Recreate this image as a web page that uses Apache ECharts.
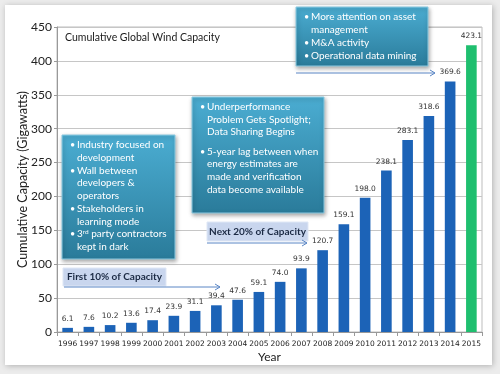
<!DOCTYPE html>
<html><head><meta charset="utf-8">
<script src="https://cdn.jsdelivr.net/npm/echarts@6/dist/echarts.min.js"></script>
<style>html,body{margin:0;padding:0;background:#ececec;}#c{width:500px;height:374px;}</style>
</head><body><div id="c"></div>
<script>
const years = ['1996','1997','1998','1999','2000','2001','2002','2003','2004','2005','2006','2007','2008','2009','2010','2011','2012','2013','2014','2015'];
const capacity = [6.1,7.6,10.2,13.6,17.4,23.9,31.1,39.4,47.6,59.1,74.0,93.9,120.7,159.1,198.0,238.1,283.1,318.6,369.6,423.1];
const yTicks = [0,50,100,150,200,250,300,350,400,450];
const chartTitle = 'Cumulative Global Wind Capacity';
const yName = 'Cumulative Capacity (Gigawatts)';
const xName = 'Year';
const box1 = [['•','Industry focused on'],['','development'],['•','Wall between'],['','developers &'],['','operators'],['•','Stakeholders in'],['','learning mode'],['•','{n|3}{s|rd}{n| party contractors}'],['','kept in dark']];
const box2 = [['•','Underperformance'],['','Problem Gets Spotlight;'],['','Data Sharing Begins'],['•','5-year lag between when'],['','energy estimates are'],['','made and verification'],['','data become available']];
const box3 = [['•','More attention on asset'],['','management'],['•','M&A activity'],['•','Operational data mining']];
const phase1 = 'First 10% of Capacity';
const phase2 = 'Next 20% of Capacity';

const BLUE = '#1c63b7', GREEN = '#1fbf6f';
const FONT = 'Lato, "Open Sans", sans-serif';
const chart = echarts.init(document.getElementById('c'));

function tealBox(x, y, w, h, lines, ys) {
  const els = [{
    type: 'rect', shape: {x: x, y: y, width: w, height: h}, z: 10,
    style: {
      fill: new echarts.graphic.LinearGradient(0,0,0,1,[{offset:0,color:'#4badd2'},{offset:1,color:'#2a7b9a'}]),
      stroke: '#8ccbe2', lineWidth: 1,
      shadowBlur: 4, shadowOffsetX: 1, shadowOffsetY: 2, shadowColor: 'rgba(0,0,0,0.35)'
    }
  }];
  lines.forEach((l, i) => {
    if (l[0]) els.push({type:'text', z: 11, style:{text: l[0], x: x + 8, y: ys[i], fill:'#fff', font: '9px ' + FONT, verticalAlign:'middle'}});
    els.push({type:'text', z: 11, style:{text: l[1], x: x + 15, y: ys[i], fill:'#fff', fontSize: 10, fontFamily: FONT, verticalAlign:'middle',
      rich: {n:{fontSize:10, fontFamily: FONT, fill:'#fff', color:'#fff'}, s:{fontSize:6.5, fontFamily: FONT, fill:'#fff', color:'#fff', verticalAlign:'top', padding:[0,0,5,0]}}}});
  });
  return els;
}
function arrow(x1, x2, y) {
  return [
    {type:'line', z: 9, shape:{x1:x1,y1:y,x2:x2,y2:y}, style:{stroke:'#5a86c5', lineWidth:1}},
    {type:'polyline', z: 9, shape:{points:[[x2-5,y-3],[x2,y],[x2-5,y+3]]}, style:{stroke:'#5a86c5', lineWidth:1, fill:null}}
  ];
}
function phaseLabel(x, y, w, h, text) {
  return [
    {type:'rect', z: 9, shape:{x:x,y:y,width:w,height:h}, style:{fill:'#c9d6ee', stroke:'#dfe7f5', lineWidth:1}},
    {type:'text', z: 10, style:{text:text, x:x+w/2, y:y+h/2, align:'center', verticalAlign:'middle', fill:'#1b2a44', font:'bold 10px ' + FONT}}
  ];
}

let graphics = [
  {type:'rect', z:-10, silent:true, shape:{x:5,y:5,width:487,height:360},
    style:{fill:'#fff', shadowBlur:6, shadowColor:'rgba(0,0,0,0.25)', shadowOffsetX:1, shadowOffsetY:1}},
  {type:'rect', z:-1, shape:{x:57,y:27,width:425,height:305}, style:{fill:null, stroke:'#bdbdbd', lineWidth:1}},
  {type:'text', z: 5, style:{text: chartTitle, x: 65, y: 38, verticalAlign:'middle', fill:'#1a1a1a', font:'10.5px ' + FONT}}
];
graphics = graphics.concat(
  tealBox(62, 135, 113, 124, box1, [145,158,171,183,196,209,222,234,247]),
  tealBox(192, 97, 132, 116, box2, [107,120,132,152,164,177,190]),
  tealBox(296, 7, 132, 59, box3, [17,30,43,56]),
  phaseLabel(63, 268, 103, 18, phase1),
  arrow(64, 220, 287),
  phaseLabel(207, 222, 101, 19, phase2),
  arrow(207, 307, 243),
  arrow(296, 435, 73)
);

chart.setOption({
  animation: false,
  backgroundColor: 'transparent',
  grid: {left: 57, right: 18, top: 27, bottom: 42},
  xAxis: {
    type: 'category', data: years,
    name: xName, nameLocation: 'middle', nameGap: 19, nameMoveOverlap: false,
    nameTextStyle: {fontFamily: FONT, fontSize: 12, color: '#222'},
    axisLine: {lineStyle: {color: '#999'}},
    axisTick: {show: true, length: 4, lineStyle: {color: '#999'}},
    axisLabel: {fontFamily: '"DejaVu Sans", sans-serif', fontSize: 7.5, color: '#222', margin: 8, interval: 0}
  },
  yAxis: {
    type: 'value', min: 0, max: 450, interval: 50,
    name: yName, nameLocation: 'middle', nameGap: 28, nameRotate: 90, nameMoveOverlap: false,
    nameTextStyle: {fontFamily: FONT, fontSize: 12.5, color: '#222'},
    axisLine: {show: true, lineStyle: {color: '#999'}},
    axisTick: {show: true, length: 3, lineStyle: {color: '#999'}},
    axisLabel: {fontFamily: FONT, fontSize: 12, color: '#222', margin: 5,
      formatter: v => yTicks.includes(v) ? String(v) : ''},
    splitLine: {lineStyle: {color: '#c6c6c6'}}
  },
  series: [{
    type: 'bar', data: capacity, barWidth: '50%',
    itemStyle: {color: p => p.dataIndex === capacity.length - 1 ? GREEN : BLUE},
    label: {show: true, position: 'top', distance: 5, fontFamily: '"DejaVu Sans", sans-serif', fontSize: 7.5, color: '#333',
      formatter: p => p.value.toFixed(1)}
  }],
  graphic: {elements: graphics}
});
</script></body></html>
